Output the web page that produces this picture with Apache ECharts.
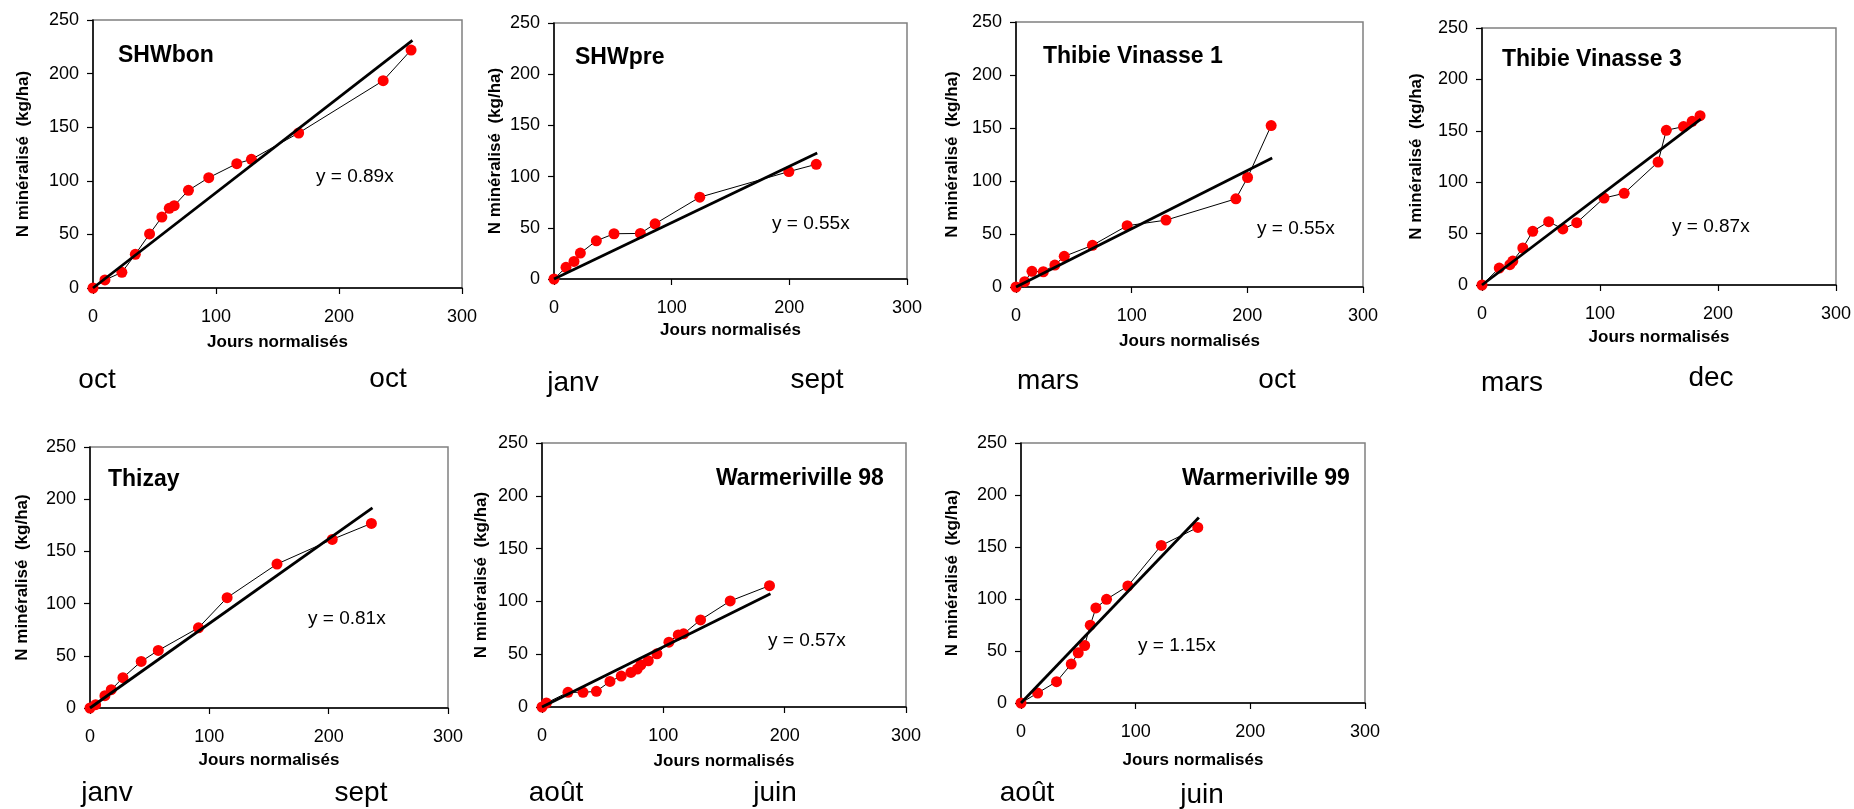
<!DOCTYPE html>
<html>
<head>
<meta charset="utf-8">
<script src="https://cdn.jsdelivr.net/npm/echarts@6/dist/echarts.min.js"></script>
<style>
html,body{margin:0;padding:0;background:#fff;}
#chart{width:1854px;height:809px;}
</style>
</head>
<body>
<div id="chart"></div>
<script>
// ---------- DATA ----------
const panelNames = ['SHWbon', 'SHWpre', 'Thibie Vinasse 1', 'Thibie Vinasse 3', 'Thizay', 'Warmeriville 98', 'Warmeriville 99'];
const equations = ['y = 0.89x', 'y = 0.55x', 'y = 0.55x', 'y = 0.87x', 'y = 0.81x', 'y = 0.57x', 'y = 1.15x'];
const monthStart = ['oct', 'janv', 'mars', 'mars', 'janv', 'août', 'août'];
const monthEnd = ['oct', 'sept', 'oct', 'dec', 'sept', 'juin', 'juin'];

const shwbonX = [0, 9.7, 23.5, 34.4, 46, 56, 62, 66, 77.6, 94.1, 116.9, 128.8, 167.2, 235.9, 258.6];
const shwbonY = [0, 7.5, 14.6, 31.4, 50.4, 66.2, 74.3, 76.8, 91.1, 102.9, 116, 120, 144.6, 193.4, 222];

const shwpreX = [0, 10.2, 17, 22.4, 36, 51, 73.4, 85.9, 123.9, 199.6, 222.9];
const shwpreY = [0, 11.4, 17.2, 25.3, 37.3, 44.2, 44.5, 53.9, 79.9, 104.9, 112];

const thibie1X = [0, 7.5, 13.8, 23.6, 33.6, 41.7, 66.1, 96.1, 129.7, 190.1, 200.2, 220.6];
const thibie1Y = [0, 5, 14.8, 14.4, 20.7, 28.9, 39.3, 57.8, 63.1, 83.2, 103.3, 152.3];

const thibie3X = [0, 14.6, 23.6, 26.1, 34.6, 43, 56.5, 68.5, 80.3, 103.4, 120.5, 149.2, 156.2, 170.8, 178.1, 184.8];
const thibie3Y = [0, 16.5, 19.8, 23.3, 36, 52.2, 61.6, 54.5, 60.6, 84.6, 89.2, 119.6, 150.5, 154.1, 159.2, 164.7];

const thizayX = [0, 4.7, 12.5, 17.8, 27.6, 42.9, 57.2, 90.9, 114.9, 156.7, 203, 235.8];
const thizayY = [0, 3.2, 11.8, 17.5, 29, 44.6, 55.1, 76.8, 105.7, 137.9, 161.5, 176.8];

const warm98X = [0, 3.6, 21.4, 33.8, 44.8, 56, 65.3, 73.3, 78.5, 81.5, 87.6, 94.7, 104.6, 112.3, 116.7, 130.7, 155.1, 187.5];
const warm98Y = [0, 3.8, 13.9, 13.9, 14.8, 24.2, 29.3, 32.7, 35.9, 40, 43.8, 50.4, 61.4, 68.3, 69.3, 82.5, 100.4, 114.9];

const warm99X = [0, 14.5, 31, 43.8, 49.9, 55.5, 60.4, 65.3, 74.6, 93.2, 122.3, 154.2];
const warm99Y = [0, 9.6, 20.5, 37.4, 48.3, 55.3, 74.8, 91.4, 99.7, 112.5, 151.5, 168.8];

// end points of fitted lines (start at origin)
const fitEndX = [259.7, 223.7, 221.5, 185.4, 236.7, 188.3, 155.1];
const fitEndY = [231, 123, 121.8, 161.3, 191.7, 107.3, 178.4];

const xTicks = [0, 100, 200, 300];
const yTicks = [0, 50, 100, 150, 200, 250];

const seriesX = [shwbonX, shwpreX, thibie1X, thibie3X, thizayX, warm98X, warm99X];
const seriesY = [shwbonY, shwpreY, thibie1Y, thibie3Y, thizayY, warm98Y, warm99Y];

// ---------- LAYOUT ----------
const layout = [
  {l: 93, t: 20, w: 369, h: 268, yGap: 61, xGap: 46, title: [118, 56], eq: [316, 177], m1: [97, 380], m2: [388, 379]},
  {l: 554, t: 23, w: 353, h: 256, yGap: 50, xGap: 43, title: [575, 58], eq: [772, 224], m1: [573, 383], m2: [817, 380]},
  {l: 1016, t: 22, w: 347, h: 265, yGap: 55, xGap: 46, title: [1043, 57], eq: [1257, 229], m1: [1048, 381], m2: [1277, 380]},
  {l: 1482, t: 28, w: 356, h: 257, yGap: 57, xGap: 44, title: [1502, 60], eq: [1672, 227], m1: [1512, 383], m2: [1711, 378]},
  {l: 90, t: 447, w: 358, h: 261, yGap: 59, xGap: 44, title: [108, 480], eq: [308, 619], m1: [107, 793], m2: [361, 793]},
  {l: 542, t: 443, w: 364, h: 264, yGap: 52, xGap: 46, title: [716, 479], eq: [768, 641], m1: [556, 793], m2: [775, 793]},
  {l: 1021, t: 443, w: 344, h: 260, yGap: 60, xGap: 49, title: [1182, 479], eq: [1138, 646], m1: [1027, 793], m2: [1202, 795]}
];

const FONT = '"Liberation Sans", Arial, sans-serif';

const grids = [], xAxes = [], yAxes = [], series = [], graphics = [];
layout.forEach((L, i) => {
  grids.push({left: L.l, top: L.t, width: L.w, height: L.h, show: true, borderColor: '#808080', borderWidth: 1.5, backgroundColor: '#fff'});
  xAxes.push({
    type: 'value', gridIndex: i, min: xTicks[0], max: xTicks[xTicks.length - 1], interval: xTicks[1] - xTicks[0],
    name: 'Jours normalisés', nameLocation: 'middle', nameGap: L.xGap,
    nameTextStyle: {fontFamily: FONT, fontSize: 17, fontWeight: 'bold', color: '#000'},
    axisLine: {show: true, onZero: false, lineStyle: {color: '#000', width: 1.5}},
    axisTick: {show: true, inside: false, length: 6, lineStyle: {color: '#000', width: 1.2}},
    axisLabel: {fontFamily: FONT, fontSize: 18, color: '#000', margin: 20},
    splitLine: {show: false}
  });
  yAxes.push({
    type: 'value', gridIndex: i, min: yTicks[0], max: yTicks[yTicks.length - 1], interval: yTicks[1] - yTicks[0],
    name: 'N minéralisé  (kg/ha)', nameLocation: 'middle', nameGap: L.yGap, nameRotate: 90,
    nameTextStyle: {fontFamily: FONT, fontSize: 17, fontWeight: 'bold', color: '#000'},
    axisLine: {show: true, onZero: false, lineStyle: {color: '#000', width: 1.5}},
    axisTick: {show: true, inside: false, length: 6, lineStyle: {color: '#000', width: 1.2}},
    axisLabel: {fontFamily: FONT, fontSize: 18, color: '#000', margin: 14},
    splitLine: {show: false}
  });
  const pts = seriesX[i].map((x, k) => [x, seriesY[i][k]]);
  series.push({
    type: 'line', xAxisIndex: i, yAxisIndex: i, data: pts, z: 2,
    symbol: 'circle', symbolSize: 11, showAllSymbol: true,
    itemStyle: {color: '#ff0000', borderWidth: 0},
    lineStyle: {color: '#000', width: 1},
    emphasis: {disabled: true}
  });
  series.push({
    type: 'line', xAxisIndex: i, yAxisIndex: i, data: [[0, 0], [fitEndX[i], fitEndY[i]]], z: 3,
    symbol: 'none', lineStyle: {color: '#000', width: 2.8},
    emphasis: {disabled: true}
  });
  graphics.push({type: 'text', x: L.title[0], y: L.title[1], z: 10,
    style: {text: panelNames[i], font: 'bold 23px ' + FONT, fill: '#000', align: 'left', verticalAlign: 'middle'}});
  graphics.push({type: 'text', x: L.eq[0], y: L.eq[1], z: 10,
    style: {text: equations[i], font: '19px ' + FONT, fill: '#000', align: 'left', verticalAlign: 'middle'}});
  graphics.push({type: 'text', x: L.m1[0], y: L.m1[1], z: 10,
    style: {text: monthStart[i], font: '28px ' + FONT, fill: '#000', align: 'center', verticalAlign: 'middle'}});
  graphics.push({type: 'text', x: L.m2[0], y: L.m2[1], z: 10,
    style: {text: monthEnd[i], font: '28px ' + FONT, fill: '#000', align: 'center', verticalAlign: 'middle'}});
});

const chart = echarts.init(document.getElementById('chart'), null, {renderer: 'canvas'});
chart.setOption({
  animation: false,
  backgroundColor: '#fff',
  grid: grids,
  xAxis: xAxes,
  yAxis: yAxes,
  series: series,
  graphic: graphics
});
</script>
</body>
</html>
